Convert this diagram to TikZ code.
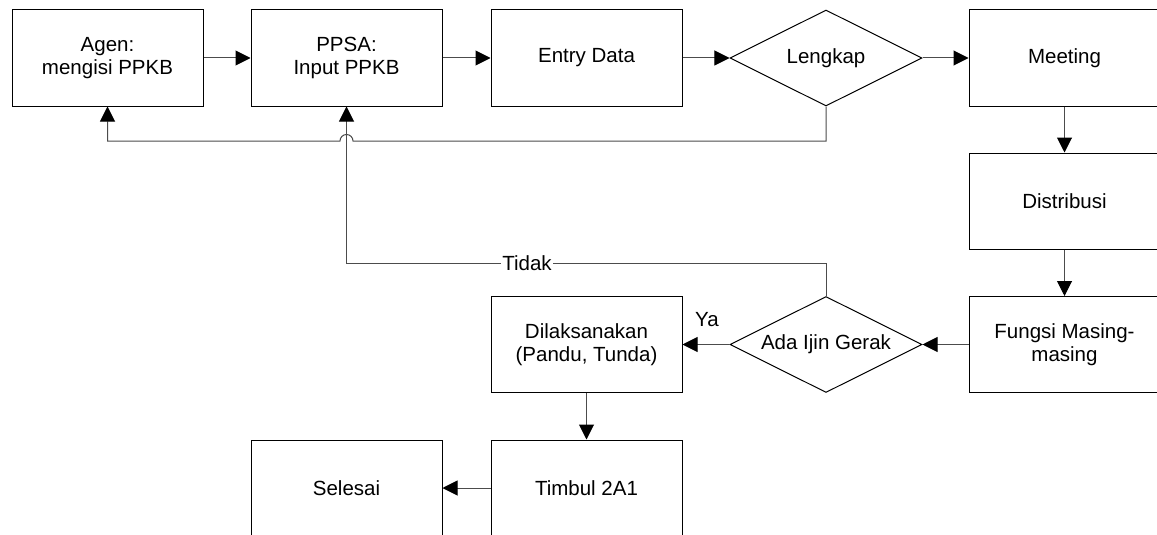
\documentclass[tikz,border=0pt]{standalone}
\usepackage{fontspec}
\setmainfont{Liberation Sans}
\usetikzlibrary{arrows.meta,shapes.geometric}
\tikzset{
  box/.style={draw=black,line width=1pt,rectangle,minimum width=191pt,minimum height=96pt,inner sep=0pt,align=center,font=\fontsize{20.5}{23}\selectfont},
  dec/.style={draw=black,line width=1pt,diamond,shape aspect=2,minimum width=192pt,minimum height=96pt,inner sep=0pt,align=center,font=\fontsize{20.5}{23}\selectfont},
  conn/.style={draw=black!70,line width=1pt,-{Triangle[length=15pt,width=15pt,color=black]}},
  lbl/.style={font=\fontsize{20.5}{23}\selectfont,inner sep=1pt,fill=white},
}
\begin{document}
\begin{tikzpicture}[x=1pt,y=-1pt]
\useasboundingbox (0,0) rectangle (1157,535);
\clip (0,0) rectangle (1157,535);
\fill[white] (0,0) rectangle (1157,535);
% nodes
\node[box] (agen) at (107.5,58) {Agen:\\mengisi PPKB};
\node[box] (ppsa) at (346.5,58) {PPSA:\\Input PPKB};
\node[box] (entry) at (586.5,58) {Entry Data};
\node[dec] (lengkap) at (826,58) {Lengkap};
\node[box] (meeting) at (1064.5,58) {Meeting};
\node[box] (distribusi) at (1064.5,201) {Distribusi};
\node[box] (fungsi) at (1064.5,344.5) {Fungsi Masing-\\masing};
\node[dec] (ijin) at (826,344.5) {Ada Ijin Gerak};
\node[box] (laksana) at (586.5,344.5) {Dilaksanakan\\(Pandu, Tunda)};
\node[box] (timbul) at (586.5,488) {Timbul 2A1};
\node[box] (selesai) at (346.5,488) {Selesai};
% connectors
\draw[conn] (agen) -- (ppsa);
\draw[conn] (ppsa) -- (entry);
\draw[conn] (entry) -- (lengkap);
\draw[conn] (lengkap) -- (meeting);
\draw[conn] (meeting) -- (distribusi);
\draw[conn] (distribusi) -- (fungsi);
\draw[conn] (fungsi) -- (ijin);
\draw[conn] (ijin) -- (laksana);
\draw[conn] (laksana) -- (timbul);
\draw[conn] (timbul) -- (selesai);
\coordinate (fbA) at (826,141);
\coordinate (hopR) at (353,141);
\coordinate (fbB) at (107.5,141);
\draw[conn] (lengkap.south) -- (fbA) -- (hopR) arc[start angle=0,end angle=180,radius=6.5pt] -- (fbB) -- (agen.south);
\coordinate (tdA) at (826,263);
\coordinate (tdB) at (346.5,263);
\draw[conn] (ijin.north) -- (tdA) -- (tdB) -- (ppsa.south);
\node[lbl] (tidak) at (527,263) {Tidak};
\node[font=\fontsize{20.5}{23}\selectfont,inner sep=0pt] (ya) at (707,320) {Ya};
\end{tikzpicture}
\end{document}
